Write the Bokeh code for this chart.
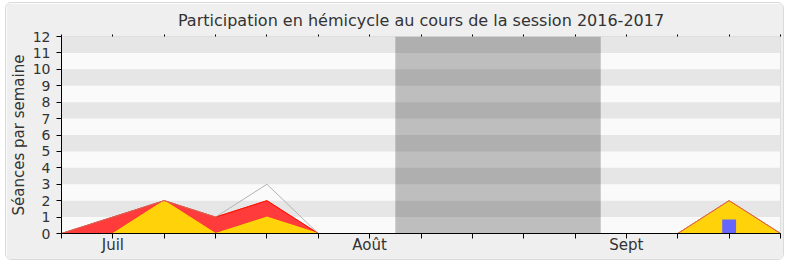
from bokeh.plotting import figure
from bokeh.models import FixedTicker, BoxAnnotation, LinearAxis, Range1d
from bokeh.embed import file_html
from bokeh.resources import INLINE

title = "Participation en hémicycle au cours de la session 2016-2017"
ylabel = "Séances par semaine"
weeks = list(range(15))
total = [0, 1, 2, 1, 3, 0, 0, 0, 0, 0, 0, 0, 0, 2, 0]
presence = [0, 1, 2, 1, 2, 0, 0, 0, 0, 0, 0, 0, 0, 2, 0]
interventions = [0, 0, 2, 0, 1, 0, 0, 0, 0, 0, 0, 0, 0, 2, 0]
question_weeks = [13]
questions = [0.85]
vacation = (6.5, 10.5)
month_labels = {1: "Juil", 6: "Août", 11: "Sept"}
yticks = list(range(13))

FONT = "DejaVu Sans"
TXT = "#333333"

p = figure(width=779, height=258, output_backend="svg", toolbar_location=None,
           x_range=Range1d(0, 14), y_range=Range1d(0, 12),
           min_border_left=55, min_border_right=5, min_border_top=33, min_border_bottom=28,
           background_fill_color="#fafafa", border_fill_color="#efefef",
           outline_line_color="#dddddd", margin=(2, 0, 0, 5),
           styles={"border": "1px solid #dadada", "border-radius": "6px", "overflow": "hidden"})

p.title.text = title
p.title.text_font = FONT
p.title.text_font_size = "16px"
p.title.text_font_style = "normal"
p.title.text_color = TXT
p.title.align = "center"
p.title.offset = 6

# stripes
for y in yticks[1:12:2]:
    p.add_layout(BoxAnnotation(bottom=y, top=y + 1, fill_color="#e6e6e6", fill_alpha=1,
                               line_color=None, level="underlay"))
p.add_layout(BoxAnnotation(left=vacation[0], right=vacation[1], fill_color="black",
                           fill_alpha=0.24, line_color=None, level="underlay"))

p.xgrid.visible = False
p.ygrid.visible = False

xs = weeks + weeks[::-1]
p.patch(xs, presence + [0] * len(weeks), fill_color="#ff3b3b", line_color="#ff0000", line_width=1)
p.patch(xs, interventions + [0] * len(weeks), fill_color="#ffd20a", line_color="#ffdf00", line_width=1)
p.line(weeks, total, line_color="#b3b3b3", line_width=1)
p.line(weeks, presence, line_color="#ff2200", line_width=1, line_alpha=0.6)
p.vbar(x=question_weeks, top=questions, width=0.27, fill_color="#6666ff", line_color=None)

p.xaxis.ticker = FixedTicker(ticks=weeks)
p.xaxis.major_label_overrides = {w: month_labels.get(w, "") for w in weeks}
p.xaxis.major_label_text_font = FONT
p.xaxis.major_label_text_font_size = "15px"
p.xaxis.major_label_text_color = TXT
p.xaxis.major_tick_in = 0
p.xaxis.major_tick_out = 5
p.xaxis.minor_tick_line_color = None
p.xaxis.axis_line_color = "black"
p.xaxis.major_tick_line_color = "black"
p.xaxis.major_label_standoff = -3

p.yaxis.ticker = FixedTicker(ticks=yticks)
p.yaxis.major_label_text_font = FONT
p.yaxis.major_label_text_font_size = "14px"
p.yaxis.major_label_text_color = TXT
p.yaxis.major_tick_in = 0
p.yaxis.major_tick_out = 5
p.yaxis.minor_tick_line_color = None
p.yaxis.axis_line_color = "black"
p.yaxis.major_tick_line_color = "black"
p.yaxis.major_label_standoff = 6
p.yaxis.axis_label = ylabel
p.yaxis.axis_label_text_font = FONT
p.yaxis.axis_label_text_font_size = "15px"
p.yaxis.axis_label_text_font_style = "normal"
p.yaxis.axis_label_text_color = TXT
p.yaxis.axis_label_standoff = 2

top_axis = LinearAxis(ticker=FixedTicker(ticks=weeks), axis_line_color=None,
                      major_tick_in=0, major_tick_out=2, minor_tick_line_color=None,
                      major_label_text_font_size="0px", major_label_standoff=0,
                      major_tick_line_color="black")
top_axis.major_label_overrides = {w: "" for w in weeks}
p.add_layout(top_axis, "above")

open("out.html", "w").write(file_html(p, INLINE))
